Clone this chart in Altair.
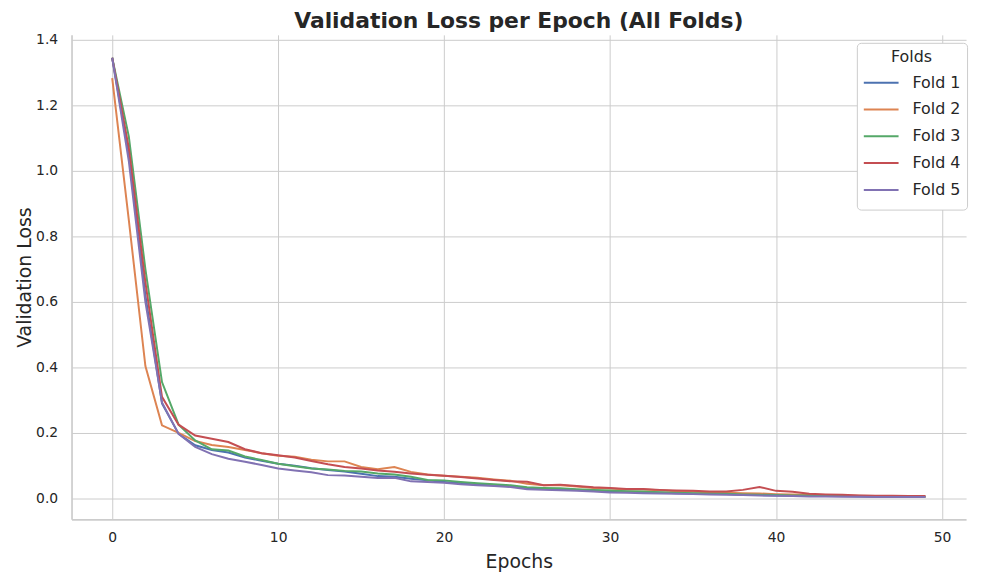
import altair as alt
import pandas as pd

epochs = list(range(50))

fold1 = [1.345, 1.05, 0.62, 0.29, 0.197, 0.162, 0.148, 0.140, 0.125, 0.115,
         0.106, 0.100, 0.092, 0.087, 0.082, 0.075, 0.068, 0.066, 0.060, 0.055,
         0.050, 0.046, 0.042, 0.040, 0.037, 0.031, 0.029, 0.028, 0.026, 0.024,
         0.022, 0.020, 0.019, 0.018, 0.016, 0.015, 0.014, 0.013, 0.011, 0.010,
         0.009, 0.009, 0.008, 0.007, 0.007, 0.006, 0.006, 0.005, 0.005, 0.005]
fold2 = [1.283, 0.85, 0.404, 0.223, 0.200, 0.175, 0.163, 0.157, 0.148, 0.138,
         0.130, 0.127, 0.118, 0.113, 0.113, 0.096, 0.089, 0.096, 0.081, 0.073,
         0.069, 0.066, 0.063, 0.058, 0.054, 0.045, 0.040, 0.040, 0.036, 0.032,
         0.030, 0.027, 0.027, 0.025, 0.022, 0.021, 0.018, 0.017, 0.016, 0.015,
         0.013, 0.012, 0.011, 0.010, 0.009, 0.008, 0.007, 0.007, 0.006, 0.006]
fold3 = [1.345, 1.105, 0.70, 0.355, 0.225, 0.177, 0.150, 0.146, 0.128, 0.117,
         0.106, 0.098, 0.091, 0.088, 0.084, 0.082, 0.076, 0.073, 0.066, 0.056,
         0.055, 0.050, 0.046, 0.043, 0.040, 0.034, 0.032, 0.031, 0.028, 0.026,
         0.024, 0.022, 0.021, 0.019, 0.017, 0.016, 0.015, 0.014, 0.012, 0.011,
         0.010, 0.009, 0.009, 0.008, 0.007, 0.007, 0.006, 0.006, 0.005, 0.005]
fold4 = [1.345, 1.07, 0.66, 0.31, 0.225, 0.192, 0.182, 0.172, 0.150, 0.138,
         0.132, 0.125, 0.114, 0.104, 0.096, 0.091, 0.085, 0.081, 0.076, 0.072,
         0.069, 0.065, 0.061, 0.056, 0.052, 0.051, 0.040, 0.042, 0.038, 0.034,
         0.032, 0.029, 0.029, 0.026, 0.024, 0.023, 0.021, 0.021, 0.026, 0.035,
         0.023, 0.020, 0.014, 0.012, 0.011, 0.009, 0.008, 0.008, 0.007, 0.007]
fold5 = [1.345, 1.03, 0.60, 0.293, 0.197, 0.157, 0.135, 0.121, 0.112, 0.102,
         0.091, 0.085, 0.080, 0.071, 0.070, 0.066, 0.062, 0.063, 0.052, 0.050,
         0.048, 0.043, 0.040, 0.038, 0.035, 0.028, 0.026, 0.025, 0.023, 0.021,
         0.018, 0.017, 0.016, 0.015, 0.014, 0.013, 0.012, 0.011, 0.010, 0.009,
         0.008, 0.007, 0.006, 0.006, 0.005, 0.005, 0.004, 0.004, 0.004, 0.004]

fold_names = ["Fold 1", "Fold 2", "Fold 3", "Fold 4", "Fold 5"]
fold_colors = ["#4c72b0", "#dd8452", "#55a868", "#c44e52", "#8172b3"]
x_ticks = [0, 10, 20, 30, 40, 50]
y_ticks = [0.0, 0.2, 0.4, 0.6, 0.8, 1.0, 1.2, 1.4]

rows = []
for name, vals in zip(fold_names, [fold1, fold2, fold3, fold4, fold5]):
    for e, v in zip(epochs, vals):
        rows.append({"Epoch": e, "Loss": v, "Fold": name})
df = pd.DataFrame(rows)

FONT = "DejaVu Sans"
TXT = "#262626"

chart = alt.Chart(df).mark_line(strokeWidth=2, clip=True).encode(
    x=alt.X("Epoch:Q",
            scale=alt.Scale(domain=[-2.45, 51.45], nice=False, zero=False),
            axis=alt.Axis(values=x_ticks, title="Epochs", format="d",
                          labelPadding=11, titlePadding=8)),
    y=alt.Y("Loss:Q",
            scale=alt.Scale(domain=[-0.064, 1.415], nice=False, zero=False),
            axis=alt.Axis(values=y_ticks, title="Validation Loss", format=".1f",
                          labelPadding=14, titlePadding=1)),
    color=alt.Color("Fold:N",
                    scale=alt.Scale(domain=fold_names, range=fold_colors),
                    legend=alt.Legend(title="Folds", orient="none",
                                      legendX=791, legendY=8,
                                      symbolType="stroke", symbolSize=1225,
                                      symbolStrokeWidth=2, labelOffset=13,
                                      clipHeight=26.3, rowPadding=0,
                                      padding=6, titlePadding=5,
                                      fillColor="white", strokeColor="#cccccc",
                                      cornerRadius=4, titleAnchor="middle",
                                      titleFontWeight="normal", titleFontSize=16,
                                      labelFontSize=16, titleFont=FONT,
                                      labelFont=FONT, titleColor=TXT,
                                      labelColor=TXT)),
    detail="Fold:N",
).properties(
    width=901,
    height=488,
    title=alt.TitleParams("Validation Loss per Epoch (All Folds)", fontSize=22,
                          font=FONT, fontWeight="bold", color=TXT,
                          anchor="middle", offset=7, dy=7),
    padding={"left": 64, "top": 25, "right": 10, "bottom": 55},
    autosize=alt.AutoSizeParams(type="none"),
).configure_view(
    stroke=None
).configure_axis(
    grid=True, gridColor="#cccccc", gridWidth=1,
    domainColor="#cccccc", domainWidth=1.7, ticks=False,
    labelFont=FONT, labelFontSize=14, labelColor=TXT,
    titleFont=FONT, titleFontSize=19, titleColor=TXT, titleFontWeight="normal",
)

chart.save("out.html", embed_options={"renderer": "svg", "actions": False})
